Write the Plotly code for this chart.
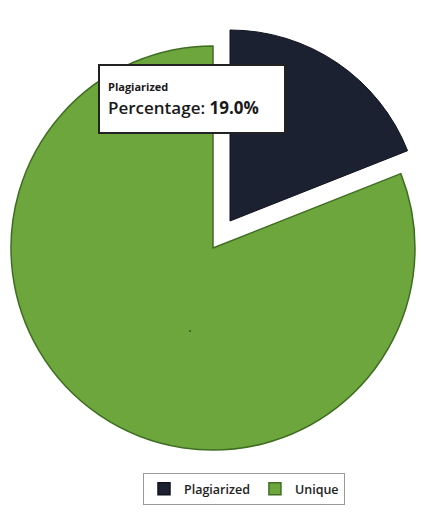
import plotly.graph_objects as go

labels = ["Plagiarized", "Unique"]
values = [19.0, 81.0]
colors = ["#1c2132", "#6ca63c"]
line_colors = ["#10131d", "#3f6e22"]
W, H = 421, 512
NONE = "rgba(0,0,0,0)"

def dom(cx, cy, r):
    return dict(x=[(cx - r) / W, (cx + r) / W], y=[1 - (cy + r) / H, 1 - (cy - r) / H])

common = dict(labels=labels, values=values, sort=False, direction="clockwise",
              rotation=0, textinfo="none", hoverinfo="skip")

fig = go.Figure()
# main (unique) part
fig.add_trace(go.Pie(**common, domain=dom(213, 248, 202), showlegend=False,
                     marker=dict(colors=[NONE, colors[1]],
                                 line=dict(color=[NONE, line_colors[1]], width=1.5))))
# exploded plagiarized slice
fig.add_trace(go.Pie(**common, domain=dom(230, 221, 191), showlegend=False,
                     marker=dict(colors=[colors[0], NONE],
                                 line=dict(color=[line_colors[0], NONE], width=1))))
# legend carrier (tiny, hidden inside the green area)
fig.add_trace(go.Pie(**common, domain=dom(190, 331, 0.05), showlegend=True,
                     marker=dict(colors=colors, line=dict(color=line_colors, width=1.5))))

pct = values[0] / sum(values) * 100
fig.add_annotation(
    xref="paper", yref="paper", x=191.5 / W, y=1 - 98.5 / H,
    xanchor="center", yanchor="middle", align="left",
    text=f"<span style='font-size:11px'><b>{labels[0]}</b></span><br>Percentage: <b>{pct:.1f}%</b>",
    font=dict(family="Open Sans", size=17, color="#1a1a1a", weight=600),
    showarrow=False, bgcolor="white", bordercolor="#222222", borderwidth=2,
    borderpad=8, width=168, height=50,
)

fig.update_layout(
    width=W, height=H, margin=dict(l=0, r=0, t=0, b=0),
    paper_bgcolor="white", plot_bgcolor="white",
    legend=dict(orientation="h", x=244 / W, xanchor="center", y=1 - 473 / H, yanchor="top",
                bordercolor="#9a9a9a", borderwidth=1, bgcolor="white",
                font=dict(family="Open Sans", size=12.5, color="#222222", weight=600),
                itemwidth=30),
)
fig.write_html("out.html")
